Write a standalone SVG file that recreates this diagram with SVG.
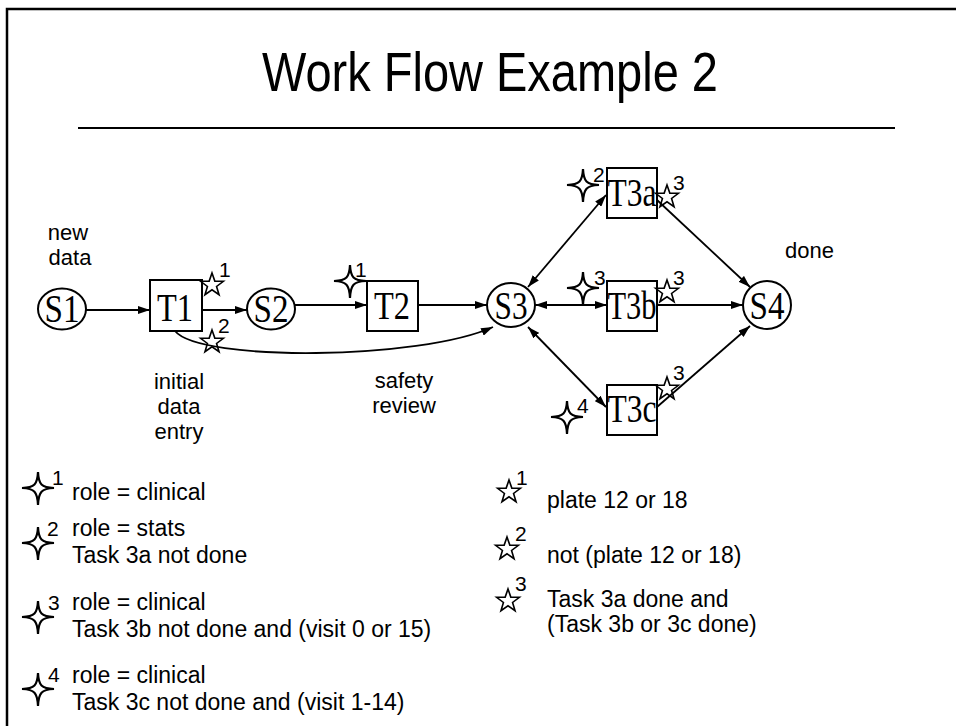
<svg xmlns="http://www.w3.org/2000/svg" xmlns:xlink="http://www.w3.org/1999/xlink" width="956" height="726" viewBox="0 0 956 726">
<style>
.frame{fill:none;stroke:#000;stroke-width:2.5}
.node{fill:#fff;stroke:#000;stroke-width:2}
.lbl{font-family:"Liberation Serif","Times New Roman",serif;font-size:40px;fill:#000;text-anchor:middle}
.txt{font-family:"Liberation Sans",Arial,sans-serif;font-size:22px;fill:#000}
.leg{font-family:"Liberation Sans",Arial,sans-serif;font-size:23px;fill:#000}
.sup{font-family:"Liberation Sans",Arial,sans-serif;font-size:21px;fill:#000}
.mid{text-anchor:middle}
.conn{fill:none;stroke:#000;stroke-width:1.8}
.s4{fill:#fff;stroke:#000;stroke-width:2.2;stroke-linejoin:miter}
.s5{fill:none;stroke:#000;stroke-width:1.6}
</style>
<defs>
<marker id="ah" viewBox="0 0 12 8" refX="12" refY="4" markerWidth="12" markerHeight="8" markerUnits="userSpaceOnUse" orient="auto-start-reverse">
<path d="M0,0 L12,4 L0,8 Z" fill="#000"/>
</marker>
<path id="star4" d="M0,-16 C0.6,-3.5 3.5,-0.6 16,0 C3.5,0.6 0.6,3.5 0,17 C-0.6,3.5 -3.5,0.6 -16,0 C-3.5,-0.6 -0.6,-3.5 0,-16 Z"/>
<polygon id="star5" points="0,-12 2.82,-3.88 11.41,-3.71 4.56,1.48 7.05,9.71 0,4.8 -7.05,9.71 -4.56,1.48 -11.41,-3.71 -2.82,-3.88"/>
</defs>

<path class="frame" d="M7,732 L7,9 L962,9"/>
<text x="490" y="91" font-family="Liberation Sans,Arial,sans-serif" font-size="56" text-anchor="middle" textLength="456" lengthAdjust="spacingAndGlyphs">Work Flow Example 2</text>
<line x1="78" y1="128" x2="895" y2="128" stroke="#000" stroke-width="2.2"/>

<g id="connectors">
<path class="conn" d="M86,310 L150,310" marker-end="url(#ah)"/>
<path class="conn" d="M202,310 L247,310" marker-end="url(#ah)"/>
<path class="conn" d="M295,305 L367,305" marker-end="url(#ah)"/>
<path class="conn" d="M418,305 L487,305" marker-end="url(#ah)"/>
<path class="conn" d="M175,331 C200,362 420,360 493,327" marker-end="url(#ah)"/>
<path class="conn" d="M528,287 L606,195" marker-start="url(#ah)" marker-end="url(#ah)"/>
<path class="conn" d="M535,305 L607,305" marker-start="url(#ah)" marker-end="url(#ah)"/>
<path class="conn" d="M528,327 L606,407" marker-start="url(#ah)" marker-end="url(#ah)"/>
<path class="conn" d="M657,200 L750,287" marker-end="url(#ah)"/>
<path class="conn" d="M657,305 L743,305" marker-end="url(#ah)"/>
<path class="conn" d="M657,407 L750,326" marker-end="url(#ah)"/>
</g>

<g id="S1"><ellipse class="node" cx="62" cy="309" rx="24" ry="20.5"/><text class="lbl" x="62" y="322" textLength="35" lengthAdjust="spacingAndGlyphs">S1</text></g>
<g id="T1"><rect class="node" x="150" y="280" width="52" height="51"/><text class="lbl" x="175" y="321" textLength="36" lengthAdjust="spacingAndGlyphs">T1</text></g>
<g id="S2"><ellipse class="node" cx="271" cy="309" rx="24" ry="20.5"/><text class="lbl" x="271" y="322" textLength="35" lengthAdjust="spacingAndGlyphs">S2</text></g>
<g id="T2"><rect class="node" x="367" y="281" width="51" height="50"/><text class="lbl" x="392" y="319" textLength="36" lengthAdjust="spacingAndGlyphs">T2</text></g>
<g id="S3"><ellipse class="node" cx="511" cy="305" rx="24" ry="22"/><text class="lbl" x="511" y="319" textLength="33" lengthAdjust="spacingAndGlyphs">S3</text></g>
<g id="T3a"><rect class="node" x="607" y="168" width="50" height="50"/><text class="lbl" x="632" y="206" textLength="49" lengthAdjust="spacingAndGlyphs">T3a</text></g>
<g id="T3b"><rect class="node" x="607" y="281" width="50" height="50"/><text class="lbl" x="632" y="319" textLength="49" lengthAdjust="spacingAndGlyphs">T3b</text></g>
<g id="T3c"><rect class="node" x="607" y="385" width="50" height="50"/><text class="lbl" x="632" y="422" textLength="49" lengthAdjust="spacingAndGlyphs">T3c</text></g>
<g id="S4"><ellipse class="node" cx="767" cy="305" rx="24" ry="24"/><text class="lbl" x="767" y="319" textLength="35" lengthAdjust="spacingAndGlyphs">S4</text></g>

<g id="annotations">
<use href="#star5" class="s5" x="212" y="285"/><text class="sup" x="219" y="277">1</text>
<use href="#star5" class="s5" x="212" y="342"/><text class="sup" x="218" y="333">2</text>
<use href="#star4" class="s4" x="350" y="281"/><text class="sup" x="355" y="277">1</text>
<use href="#star4" class="s4" x="583" y="185"/><text class="sup" x="593" y="182">2</text>
<use href="#star5" class="s5" x="667" y="197"/><text class="sup" x="673" y="190">3</text>
<use href="#star4" class="s4" x="583" y="288"/><text class="sup" x="594" y="285">3</text>
<use href="#star5" class="s5" x="667" y="292"/><text class="sup" x="673" y="285">3</text>
<use href="#star5" class="s5" x="667" y="389"/><text class="sup" x="673" y="380">3</text>
<use href="#star4" class="s4" x="567" y="417"/><text class="sup" x="577" y="413">4</text>
</g>

<g id="labels">
<text class="txt mid" x="68" y="240">new</text>
<text class="txt mid" x="70" y="265">data</text>
<text class="txt mid" x="179" y="389">initial</text>
<text class="txt mid" x="179" y="414">data</text>
<text class="txt mid" x="179" y="439">entry</text>
<text class="txt mid" x="404" y="388">safety</text>
<text class="txt mid" x="404" y="413">review</text>
<text class="txt" x="785" y="258">done</text>
</g>

<g id="legend">
<use href="#star4" class="s4" x="38" y="488"/><text class="sup" x="52" y="485">1</text>
<text class="leg" x="72" y="500">role = clinical</text>
<use href="#star4" class="s4" x="38" y="543"/><text class="sup" x="47" y="536">2</text>
<text class="leg" x="72" y="536">role = stats</text>
<text class="leg" x="72" y="563">Task 3a not done</text>
<use href="#star4" class="s4" x="38" y="617"/><text class="sup" x="48" y="610">3</text>
<text class="leg" x="72" y="610">role = clinical</text>
<text class="leg" x="72" y="637">Task 3b not done and (visit 0 or 15)</text>
<use href="#star4" class="s4" x="38" y="689"/><text class="sup" x="48" y="682">4</text>
<text class="leg" x="72" y="683">role = clinical</text>
<text class="leg" x="72" y="710">Task 3c not done and (visit 1-14)</text>

<use href="#star5" class="s5" x="509" y="492"/><text class="sup" x="516" y="485">1</text>
<text class="leg" x="547" y="508">plate 12 or 18</text>
<use href="#star5" class="s5" x="507" y="549"/><text class="sup" x="515" y="541">2</text>
<text class="leg" x="547" y="563">not (plate 12 or 18)</text>
<use href="#star5" class="s5" x="508" y="601"/><text class="sup" x="515" y="591">3</text>
<text class="leg" x="547" y="607">Task 3a done and</text>
<text class="leg" x="547" y="632">(Task 3b or 3c done)</text>
</g>
</svg>
